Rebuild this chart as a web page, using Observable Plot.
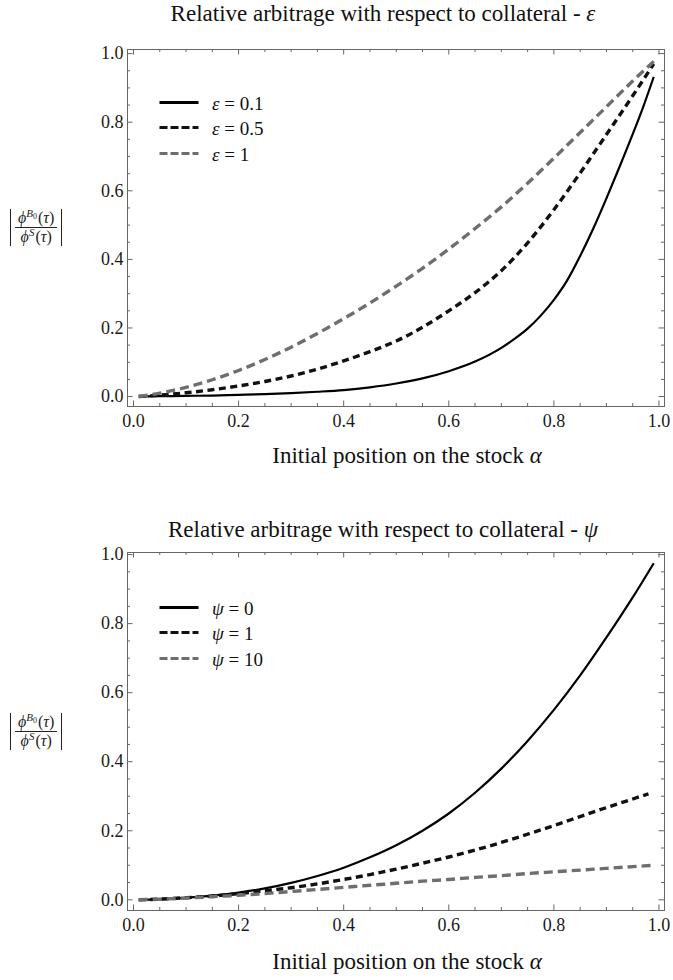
<!DOCTYPE html>
<html>
<head>
<meta charset="utf-8">
<script src="https://cdn.jsdelivr.net/npm/d3@7"></script>
<script src="https://cdn.jsdelivr.net/npm/@observablehq/plot@0.6"></script>
<style>
  body { margin: 0; background: #fff; }
  #wrap { position: relative; width: 673px; height: 980px; font-family: "Liberation Serif", "Tinos", "FreeSerif", serif; color: #111; overflow: hidden; }
  .abs { position: absolute; white-space: nowrap; }
  .title { font-size: 23px; line-height: 23px; transform: translateX(-50%); }
  .xtitle { font-size: 23px; line-height: 23px; transform: translateX(-50%); }
  .ylab { display: flex; align-items: center; font-size: 16px; color: #222; }
  .ylab .bar { width: 1px; height: 37px; background: #222; }
  .ylab .frac { display: inline-flex; flex-direction: column; align-items: center; margin: 0 4px; }
  .ylab .num { border-bottom: 1px solid #222; padding: 0 3px 1px 3px; line-height: 16px; }
  .ylab .den { padding-top: 1px; line-height: 16px; }
  .ylab sup { font-size: 11px; vertical-align: 6px; line-height: 0; margin-right: 1px; }
  .ylab sub { font-size: 8px; vertical-align: -2px; line-height: 0; }
  .leg { font-size: 19px; line-height: 19px; display: flex; align-items: center; }
  .leg svg { display: block; margin-right: 13px; }
  svg.plot { position: absolute; left: 0; }
</style>
</head>
<body>
<div id="wrap"></div>
<script>
// ---------------- data ----------------
const alpha = [0.01,0.05,0.1,0.15,0.2,0.25,0.3,0.35,0.4,0.45,0.5,0.55,0.6,0.65,0.7,0.75,0.8,0.85,0.9,0.95,0.99];
// panel 1 : epsilon
const alphaEps01 = [0.01,0.05,0.1,0.15,0.2,0.25,0.3,0.35,0.4,0.45,0.5,0.55,0.6,0.65,0.7,0.725,0.75,0.775,0.8,0.825,0.85,0.875,0.9,0.925,0.95,0.97,0.99];
const eps01 = [0,0.001,0.002,0.003,0.005,0.007,0.010,0.014,0.019,0.027,0.038,0.053,0.074,0.102,0.142,0.168,0.198,0.236,0.282,0.338,0.410,0.490,0.578,0.670,0.765,0.845,0.932];
const eps05 = [0,0.004,0.011,0.020,0.031,0.044,0.060,0.080,0.104,0.131,0.162,0.202,0.250,0.303,0.367,0.448,0.545,0.652,0.764,0.877,0.970];
const eps1  = [0,0.010,0.027,0.049,0.076,0.108,0.144,0.184,0.227,0.273,0.322,0.374,0.430,0.490,0.553,0.622,0.695,0.770,0.845,0.920,0.977];
// panel 2 : psi
const alphaPsi1 = [0.01,0.05,0.1,0.15,0.2,0.25,0.3,0.35,0.4,0.45,0.5,0.55,0.6,0.65,0.7,0.75,0.8,0.85,0.9,0.95,0.98];
const psi0  = [0,0.001,0.006,0.012,0.021,0.033,0.049,0.069,0.093,0.123,0.158,0.200,0.250,0.310,0.380,0.460,0.550,0.650,0.760,0.876,0.975];
const psi1  = [0,0.002,0.006,0.011,0.018,0.026,0.035,0.046,0.059,0.073,0.089,0.106,0.124,0.144,0.166,0.190,0.215,0.241,0.267,0.292,0.307];
const psi10 = [0,0.002,0.005,0.009,0.013,0.018,0.024,0.030,0.036,0.042,0.048,0.054,0.059,0.065,0.070,0.076,0.081,0.086,0.091,0.096,0.100];

const labels1 = ["0.1", "0.5", "1"];
const labels2 = ["0", "1", "10"];
const titleText = "Relative arbitrage with respect to collateral - ";
const titleSymbols = ["ε", "ψ"];
const xTitle = "Initial position on the stock ";

const xTicks = [0, 0.2, 0.4, 0.6, 0.8, 1.0];
const yTicks = [0, 0.2, 0.4, 0.6, 0.8, 1.0];
const minorTicks = [0.05,0.1,0.15,0.25,0.3,0.35,0.45,0.5,0.55,0.65,0.7,0.75,0.85,0.9,0.95];

// ---------------- styles ----------------
const styles = [
  {stroke: "#000", width: 2.2, dash: null, legDash: null, legWidth: 3},
  {stroke: "#111", width: 3.4, dash: "7,4.5", legDash: "8,3", legWidth: 3.2},
  {stroke: "#6e6e6e", width: 3.4, dash: "9,5", legDash: "8,3", legWidth: 3.2}
];

const FONT = '"Liberation Serif", "Tinos", "FreeSerif", serif';
const wrap = document.getElementById("wrap");
const FRAME = "#666";
const W = 673;

function panel({top, H, mt, mb, yDomain, series, symbol, legLabels, legRows, titleBase, xTitleBase, yLabCenter}) {
  const innerH = H - mt - mb;
  const ml = 127, mr = 9;
  const innerW = W - ml - mr;
  const majorLen = 5.5, minorLen = 3;
  const rows = [];
  series.forEach((s, k) => s.xs.forEach((a, i) => rows.push({a, v: s.ys[i], k})));
  const marks = [];
  marks.push(Plot.ruleX(xTicks, {x: d => d, insetTop: innerH - majorLen, stroke: FRAME}));
  marks.push(Plot.ruleX(minorTicks, {x: d => d, insetTop: innerH - minorLen, stroke: FRAME}));
  marks.push(Plot.ruleX(xTicks, {x: d => d, insetBottom: innerH - majorLen, stroke: FRAME}));
  marks.push(Plot.ruleX(minorTicks, {x: d => d, insetBottom: innerH - minorLen, stroke: FRAME}));
  marks.push(Plot.ruleY(yTicks, {y: d => d, insetRight: innerW - majorLen, stroke: FRAME}));
  marks.push(Plot.ruleY(minorTicks, {y: d => d, insetRight: innerW - minorLen, stroke: FRAME}));
  marks.push(Plot.ruleY(yTicks, {y: d => d, insetLeft: innerW - majorLen, stroke: FRAME}));
  marks.push(Plot.ruleY(minorTicks, {y: d => d, insetLeft: innerW - minorLen, stroke: FRAME}));
  series.forEach((s, k) => {
    const st = styles[k];
    marks.push(Plot.line(rows.filter(r => r.k === k), {
      x: "a", y: "v", stroke: st.stroke, strokeWidth: st.width,
      strokeDasharray: st.dash, curve: "monotone-x", strokeLinecap: "butt"
    }));
  });
  marks.push(Plot.frame({stroke: FRAME, strokeWidth: 1}));
  marks.push(Plot.axisX({anchor: "bottom", ticks: xTicks, tickSize: 0, tickPadding: 8, tickFormat: d3.format(".1f"), label: null, fill: "#1a1a1a"}));
  marks.push(Plot.axisY({anchor: "left", ticks: yTicks, tickSize: 0, tickPadding: 4, tickFormat: d3.format(".1f"), label: null, fill: "#1a1a1a"}));

  const svg = Plot.plot({
    width: W, height: H,
    marginLeft: ml, marginRight: mr, marginTop: mt, marginBottom: mb,
    x: {domain: [-0.0114, 1.0105], label: null},
    y: {domain: yDomain, label: null},
    style: {fontFamily: FONT, fontSize: "18px", background: "transparent", overflow: "visible"},
    marks
  });
  svg.classList.add("plot");
  svg.style.top = top + "px";
  svg.style.fontFamily = FONT;
  wrap.appendChild(svg);

  const t = document.createElement("div");
  t.className = "abs title";
  t.style.left = "383px";
  t.style.top = (titleBase - 19.3) + "px";
  t.innerHTML = titleText + "<i>" + symbol + "</i>";
  wrap.appendChild(t);

  const xt = document.createElement("div");
  xt.className = "abs xtitle";
  xt.style.left = "407px";
  xt.style.top = (xTitleBase - 19.3) + "px";
  xt.innerHTML = xTitle + "<i>α</i>";
  wrap.appendChild(xt);

  const yl = document.createElement("div");
  yl.className = "abs ylab";
  yl.style.left = "10px";
  yl.style.top = (yLabCenter - 18.5) + "px";
  yl.innerHTML = '<span class="bar"></span><span class="frac"><span class="num"><i>ϕ</i><sup><i>B</i><sub>0</sub></sup>(<i>τ</i>)</span><span class="den"><i>ϕ</i><sup><i>S</i></sup>(<i>τ</i>)</span></span><span class="bar"></span>';
  wrap.appendChild(yl);

  legLabels.forEach((lab, k) => {
    const st = styles[k];
    const d = document.createElement("div");
    d.className = "abs leg";
    d.style.left = "159px";
    d.style.top = (legRows[k] - 9.5) + "px";
    d.innerHTML = `<svg width="40" height="19"><line x1="0.5" y1="9.5" x2="39.5" y2="9.5" stroke="${st.stroke}" stroke-width="${st.legWidth}" ${st.legDash ? `stroke-dasharray="${st.legDash}"` : ""}/></svg><span style="position:relative;top:1px"><i>${symbol}</i> = ${lab}</span>`;
    wrap.appendChild(d);
  });
}

panel({
  top: 0, H: 440, mt: 49, mb: 34, yDomain: [-0.029, 1.012],
  series: [{xs: alphaEps01, ys: eps01}, {xs: alpha, ys: eps05}, {xs: alpha, ys: eps1}],
  symbol: titleSymbols[0], legLabels: labels1, legRows: [102.3, 127.3, 153.3],
  titleBase: 21, xTitleBase: 463, yLabCenter: 227.5
});
panel({
  top: 500, H: 440, mt: 52, mb: 30, yDomain: [-0.031, 1.006],
  series: [{xs: alpha, ys: psi0}, {xs: alphaPsi1, ys: psi1}, {xs: alpha, ys: psi10}],
  symbol: titleSymbols[1], legLabels: labels2, legRows: [607.7, 632.7, 658.3],
  titleBase: 537, xTitleBase: 969, yLabCenter: 731
});
</script>
</body>
</html>
